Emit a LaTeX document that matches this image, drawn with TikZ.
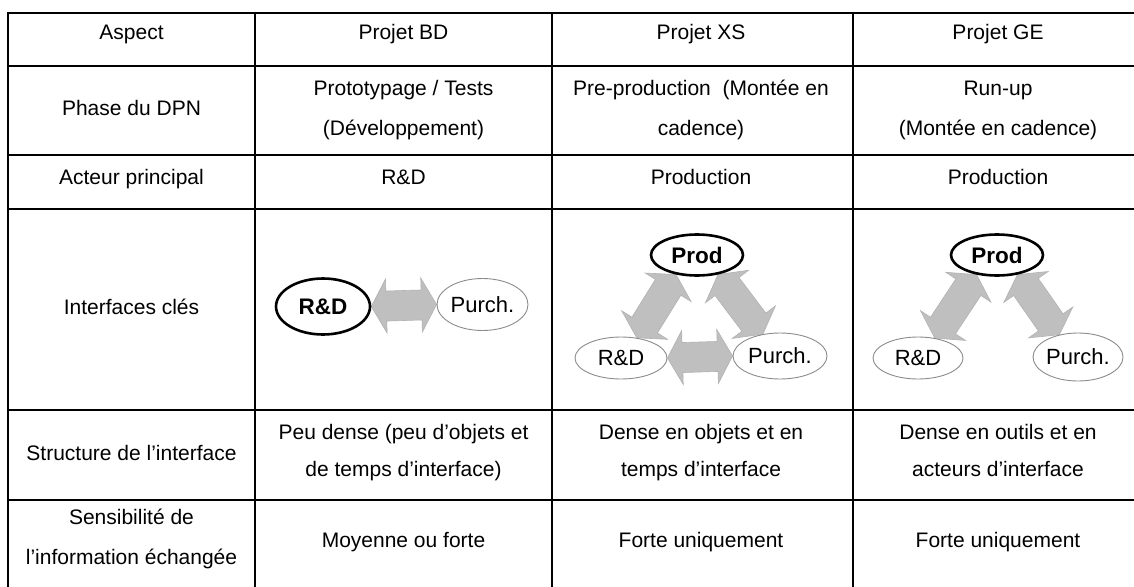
\documentclass[tikz,border=0pt]{standalone}
\usepackage{fontspec}
\setmainfont{Liberation Sans}
\usetikzlibrary{calc,shapes.geometric}
\pgfdeclarelayer{bg}
\pgfsetlayers{bg,main}
\tikzset{
  txt/.style={anchor=base, inner sep=0pt, font=\fontsize{21}{25}\selectfont},
  gridline/.style={line width=2pt, draw=black},
  keyact/.style={ellipse, draw=black, line width=2.6pt, fill=white, inner sep=0pt,
    font=\fontsize{22.5}{26}\selectfont\bfseries},
  otheract/.style={ellipse, draw=black!45, line width=0.9pt, fill=white, inner sep=0pt,
    font=\fontsize{22}{26}\selectfont},
  flow/.style={fill=black!25, draw=black!30, line width=0.6pt},
}
% double-headed block arrow between two points
\newcommand\flowarrow[2]{%
  \coordinate (fa1) at ($(#1)!15pt!(#2)$);
  \coordinate (fa2) at ($(#2)!15pt!(#1)$);
  \filldraw[flow] (#1) -- ($(fa1)!27pt!90:(#2)$) -- ($(fa1)!15pt!90:(#2)$)
    -- ($(fa2)!15pt!-90:(#1)$) -- ($(fa2)!27pt!-90:(#1)$) -- (#2)
    -- ($(fa2)!27pt!90:(#1)$) -- ($(fa2)!15pt!90:(#1)$)
    -- ($(fa1)!15pt!-90:(#2)$) -- ($(fa1)!27pt!-90:(#2)$) -- cycle;
}
\begin{document}
\begin{tikzpicture}[x=1pt,y=-1pt]
\useasboundingbox (0,0) rectangle (1134,586);
\clip (0,0) rectangle (1134,586);

% table grid
\draw[gridline] (1150,12.7) -- (8.3,12.7) -- (8.3,600);
\foreach \y in {65.7,155,209,410,500}
  \draw[gridline] (8.3,\y) -- (1150,\y);
\foreach \x in {255,552,853}
  \draw[gridline] (\x,12.7) -- (\x,600);

% row 1
\node[txt] (asp) at (131.5,40) {Aspect};
\node[txt] (hbd) at (403.5,40) {Projet BD};
\node[txt] (hxs) at (701,40) {Projet XS};
\node[txt] (hge) at (998,40) {Projet GE};
% row 2
\node[txt] (ph) at (131.5,115) {Phase du DPN};
\node[txt] (phbd1) at (403.5,95) {Prototypage / Tests};
\node[txt] (phbd2) at (403.5,135) {(Développement)};
\node[txt] (phxs1) at (701,95) {Pre-production\ \ (Montée en};
\node[txt] (phxs2) at (701,135) {cadence)};
\node[txt] (phge1) at (998,95) {Run-up};
\node[txt] (phge2) at (998,135) {(Montée en cadence)};
% row 3
\node[txt] (act) at (131.5,184) {Acteur principal};
\node[txt] (actbd) at (403.5,184) {R\&D};
\node[txt] (actxs) at (701,184) {Production};
\node[txt] (actge) at (998,184) {Production};
% row 4
\node[txt] (itf) at (131.5,314) {Interfaces clés};
% row 5
\node[txt] (str) at (131.5,460) {Structure de l’interface};
\node[txt] (strbd1) at (403.5,439) {Peu dense (peu d’objets et};
\node[txt] (strbd2) at (403.5,476) {de temps d’interface)};
\node[txt] (strxs1) at (701,439) {Dense en objets et en};
\node[txt] (strxs2) at (701,476) {temps d’interface};
\node[txt] (strge1) at (998,439) {Dense en outils et en};
\node[txt] (strge2) at (998,476) {acteurs d’interface};
% row 6
\node[txt] (sen1) at (131.5,524) {Sensibilité de};
\node[txt] (sen2) at (131.5,564) {l’information échangée};
\node[txt] (senbd) at (403.5,547) {Moyenne ou forte};
\node[txt] (senxs) at (701,547) {Forte uniquement};
\node[txt] (senge) at (998,547) {Forte uniquement};

% interfaces: projet BD
\node[keyact, minimum width=94pt, minimum height=56pt] (bdrd) at (323,306.5) {R\&D};
\node[otheract, minimum width=91pt, minimum height=52pt] (bdpu) at (482.5,304.5) {Purch.};
% interfaces: projet XS
\node[keyact, minimum width=92pt, minimum height=41pt] (xspr) at (697,255) {Prod};
\node[otheract, minimum width=92pt, minimum height=42pt] (xsrd) at (621,358) {R\&D};
\node[otheract, minimum width=94pt, minimum height=46pt] (xspu) at (780,356) {Purch.};
% interfaces: projet GE
\node[keyact, minimum width=92pt, minimum height=41pt] (gepr) at (997,255) {Prod};
\node[otheract, minimum width=90pt, minimum height=42pt] (gerd) at (918,358) {R\&D};
\node[otheract, minimum width=90pt, minimum height=48pt] (gepu) at (1078,357) {Purch.};

\begin{pgfonlayer}{bg}
\fill[white] (0,0) rectangle (1134,586);
\flowarrow{bdrd.east}{bdpu.west}
\flowarrow{xspr.223}{xsrd.52}
\flowarrow{xspr.317}{xspu.128}
\flowarrow{xsrd.east}{xspu.west}
\flowarrow{gepr.224}{gerd.50}
\flowarrow{gepr.316}{gepu.130}
\end{pgfonlayer}
\end{tikzpicture}
\end{document}
